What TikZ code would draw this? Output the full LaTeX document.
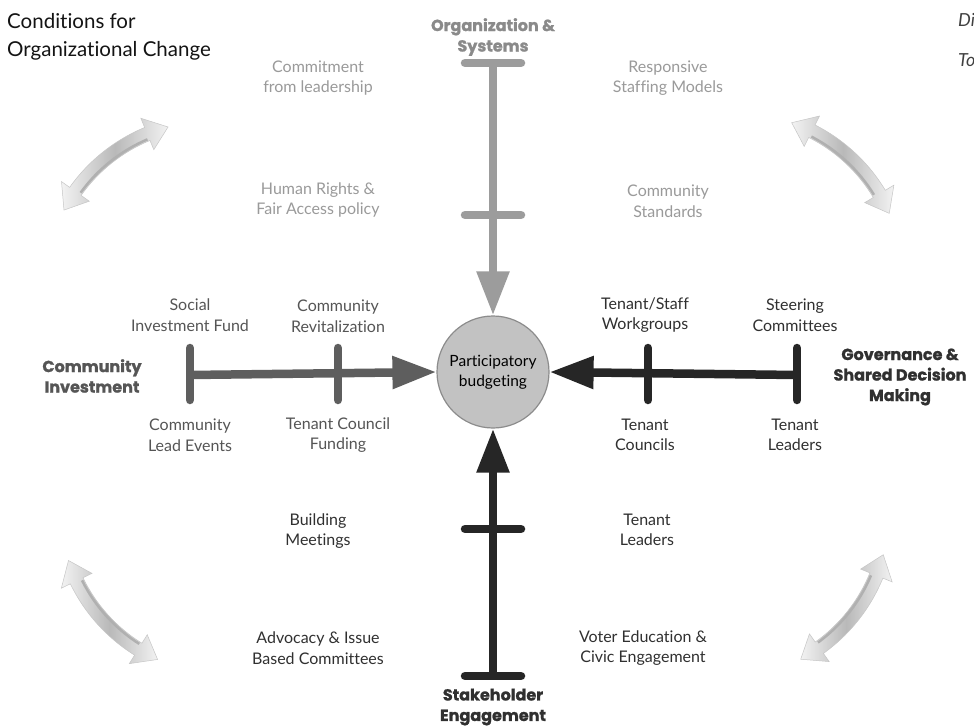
\documentclass[tikz,border=0pt]{standalone}
\usepackage{fontspec}
\setmainfont{Lato}[Ligatures=NoCommon]
\newfontfamily\heavyfont{Poppins}[Ligatures=NoCommon, BoldFeatures={FakeBold=1.2}]
\usetikzlibrary{arrows.meta}
\definecolor{cTop}{HTML}{9C9C9C}
\definecolor{cLeft}{HTML}{5E5E5E}
\definecolor{cDark}{HTML}{262626}
\definecolor{tTop}{HTML}{9A9A9A}
\definecolor{tTopH}{HTML}{8A8A8A}
\definecolor{tLeft}{HTML}{555555}
\definecolor{tDark}{HTML}{303030}
\definecolor{circFill}{HTML}{C2C2C2}
\definecolor{circLine}{HTML}{8C8C8C}
\newcommand\dblarc[3]{%
 \begin{scope}[shift={(#1,#2)}, rotate=#3]
  \begin{scope}[shift={(0pt,-151pt)}]
   \shade[arcshade] (73.8:172pt) arc[start angle=73.8, end angle=106.2, radius=172pt]
     -- (106.2:182pt) -- (113.8:165pt) -- (106.2:148pt) -- (106.2:158pt)
     arc[start angle=106.2, end angle=73.8, radius=158pt]
     -- (73.8:148pt) -- (66.2:165pt) -- (73.8:182pt) -- cycle;
   \draw[arcedge] (74.5:160pt) arc[start angle=74.5, end angle=105.5, radius=160pt];
  \end{scope}
 \end{scope}}
\begin{document}
\begin{tikzpicture}[x=1pt,y=-1pt,
  lbl/.style={font=\fontsize{16}{20.5}\selectfont, align=center, inner sep=0pt},
  hd/.style={font=\heavyfont\bfseries\fontsize{16}{20.5}\selectfont, align=center, inner sep=0pt},
  tick/.style={line width=8.5pt, line cap=round},
  axis/.style={line width=8.5pt, -{Triangle[length=44pt,width=31pt]}},
  arcshade/.style={draw=gray!45, line width=0.5pt, left color=gray!10, right color=gray!10, middle color=gray!55},
  arcedge/.style={draw=gray!62, line width=2.5pt}
]
\useasboundingbox[fill=white] (0,0) rectangle (974,727);

% title and cut-off text
\node[anchor=west, align=left, inner sep=0pt, font=\fontsize{20.5}{28}\selectfont, text=black!92] (title) at (7,37) {Conditions for\\Organizational Change};
\node[anchor=west, inner sep=0pt, font=\itshape\fontsize{18}{20}\selectfont, text=black!75] (di) at (958,20) {Di};
\node[anchor=west, inner sep=0pt, font=\itshape\fontsize{18}{20}\selectfont, text=black!75] (to) at (958,60) {To};

% centre
\node[circle, draw=circLine, line width=1.2pt, fill=circFill, minimum size=112pt, inner sep=0pt,
      font=\fontsize{15.5}{20}\selectfont, align=center, text=black] (pb) at (493,372) {Participatory\\budgeting};

% ---- top axis (Organization & Systems)
\coordinate (tTopEnd) at (493,63);
\coordinate (tTopL) at (465,63); \coordinate (tTopR) at (521,63);
\coordinate (tMidL) at (465,215); \coordinate (tMidR) at (521,215);
\draw[tick, cTop] (tTopL) -- (tTopR);
\draw[tick, cTop] (tMidL) -- (tMidR);
\draw[axis, cTop] (tTopEnd) -- (pb.north);
\node[hd, text=tTopH] (orgsys) at (493,37) {Organization \&\\Systems};
\node[lbl, text=tTop] (commit) at (318,78) {Commitment\\from leadership};
\node[lbl, text=tTop] (respons) at (668,78) {Responsive\\Staffing Models};
\node[lbl, text=tTop] (human) at (318,200) {Human Rights \&\\Fair Access policy};
\node[lbl, text=tTop] (cstand) at (668,201) {Community\\Standards};

% ---- left axis (Community Investment)
\coordinate (lEnd) at (190,375);
\coordinate (lEndT) at (190,348); \coordinate (lEndB) at (190,400);
\coordinate (lMidT) at (338,348); \coordinate (lMidB) at (338,400);
\draw[tick, cLeft] (lEndT) -- (lEndB);
\draw[tick, cLeft] (lMidT) -- (lMidB);
\draw[axis, cLeft] (lEnd) -- (pb.west);
\node[hd, text=tLeft] (cinv) at (92,376) {Community\\Investment};
\node[lbl, text=tLeft] (social) at (190,315) {Social\\Investment Fund};
\node[lbl, text=tLeft] (revital) at (338,316) {Community\\Revitalization};
\node[lbl, text=tLeft] (lead) at (190,435) {Community\\Lead Events};
\node[lbl, text=tLeft] (tcf) at (338,435) {Tenant Council\\Funding};

% ---- right axis (Governance)
\coordinate (rEnd) at (797,375);
\coordinate (rEndT) at (797,348); \coordinate (rEndB) at (797,400);
\coordinate (rMidT) at (648,348); \coordinate (rMidB) at (648,400);
\draw[tick, cDark] (rEndT) -- (rEndB);
\draw[tick, cDark] (rMidT) -- (rMidB);
\draw[axis, cDark] (rEnd) -- (pb.east);
\node[hd, text=tDark] (gov) at (900,377) {Governance \&\\Shared Decision\\Making};
\node[lbl, text=tDark] (tsw) at (645,315) {Tenant/Staff\\Workgroups};
\node[lbl, text=tDark] (steer) at (795,315) {Steering\\Committees};
\node[lbl, text=tDark] (tcouncils) at (645,435) {Tenant\\Councils};
\node[lbl, text=tDark] (tleaders) at (795,435) {Tenant\\Leaders};

% ---- bottom axis (Stakeholder Engagement)
\coordinate (bEnd) at (493,676);
\coordinate (bEndL) at (465,676); \coordinate (bEndR) at (521,676);
\coordinate (bMidL) at (465,529); \coordinate (bMidR) at (521,529);
\draw[tick, cDark] (bEndL) -- (bEndR);
\draw[tick, cDark] (bMidL) -- (bMidR);
\draw[axis, cDark] (bEnd) -- (pb.south);
\node[hd, text=tDark] (stake) at (493,707) {Stakeholder\\Engagement};
\node[lbl, text=tDark] (build) at (318,531) {Building\\Meetings};
\node[lbl, text=tDark] (tleaders2) at (647,530) {Tenant\\Leaders};
\node[lbl, text=tDark] (advoc) at (318,648) {Advocacy \& Issue\\Based Committees};
\node[lbl, text=tDark] (voter) at (643,648) {Voter Education \&\\Civic Engagement};

% ---- curved double arrows
\dblarc{116}{168.5}{38.6}
\dblarc{840.5}{168}{-42.9}
\dblarc{113}{610}{132}
\dblarc{842}{607}{231.7}
\end{tikzpicture}
\end{document}
